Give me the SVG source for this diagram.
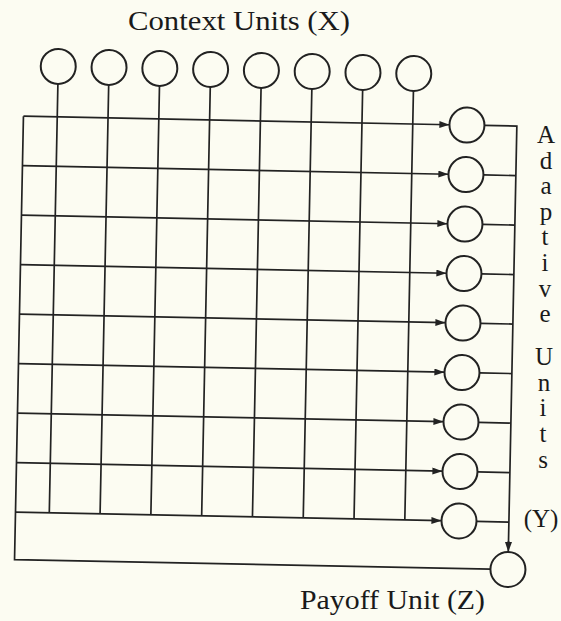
<svg xmlns="http://www.w3.org/2000/svg" width="561" height="621" viewBox="0 0 561 621">
  <style>
    .node { fill: none; stroke: #222; stroke-width: 2; }
    .wire { fill: none; stroke: #222; stroke-width: 1.7; }
    .lbl { font-family: "Liberation Serif", "DejaVu Serif", serif; fill: #1a1a1a; }
    .col { font-family: "Liberation Serif", "DejaVu Serif", serif; fill: #1a1a1a; font-size: 25px; text-anchor: middle; }
  </style>
  <defs>
    <marker id="arr" markerUnits="userSpaceOnUse" markerWidth="11" markerHeight="8" refX="10" refY="3.5" orient="auto">
      <path d="M0,0 L10,3.5 L0,7 z" fill="#222"/>
    </marker>
  </defs>
  <rect width="561" height="621" fill="#fcfcf2"/>

  <g transform="rotate(1.15 260 340)">
    <g id="connectors">
      <path class="wire" d="M19,121 L19,564.5 L495,564.5"/>
      <path class="wire" d="M52.8,88 V517 M103.6,88 V517 M154.4,88 V517 M205.2,88 V517 M256,88 V517 M306.8,88 V517 M357.6,88 V517 M408.4,88 V517"/>
      <path class="wire" d="M19,121 H445" marker-end="url(#arr)"/>
      <path class="wire" d="M19,170.5 H445" marker-end="url(#arr)"/>
      <path class="wire" d="M19,220 H445" marker-end="url(#arr)"/>
      <path class="wire" d="M19,269.5 H445" marker-end="url(#arr)"/>
      <path class="wire" d="M19,319 H445" marker-end="url(#arr)"/>
      <path class="wire" d="M19,368.5 H445" marker-end="url(#arr)"/>
      <path class="wire" d="M19,418 H445" marker-end="url(#arr)"/>
      <path class="wire" d="M19,467.5 H445" marker-end="url(#arr)"/>
      <path class="wire" d="M19,517 H445" marker-end="url(#arr)"/>
      <path class="wire" d="M480.1,121 H512.5 V540 M480.1,170.5 H512.5 M480.1,220 H512.5 M480.1,269.5 H512.5 M480.1,319 H512.5 M480.1,368.5 H512.5 M480.1,418 H512.5 M480.1,467.5 H512.5 M480.1,517 H512.5"/>
      <path class="wire" d="M512.5,536 L512.5,547" marker-end="url(#arr)"/>
    </g>

    <g id="context-units">
      <circle id="x1" class="node" cx="52.8" cy="70.5" r="17.5"/>
      <circle id="x2" class="node" cx="103.6" cy="70.5" r="17.5"/>
      <circle id="x3" class="node" cx="154.4" cy="70.5" r="17.5"/>
      <circle id="x4" class="node" cx="205.2" cy="70.5" r="17.5"/>
      <circle id="x5" class="node" cx="256" cy="70.5" r="17.5"/>
      <circle id="x6" class="node" cx="306.8" cy="70.5" r="17.5"/>
      <circle id="x7" class="node" cx="357.6" cy="70.5" r="17.5"/>
      <circle id="x8" class="node" cx="408.4" cy="70.5" r="17.5"/>
    </g>

    <g id="adaptive-units">
      <circle id="y1" class="node" cx="462.6" cy="121" r="17.5"/>
      <circle id="y2" class="node" cx="462.6" cy="170.5" r="17.5"/>
      <circle id="y3" class="node" cx="462.6" cy="220" r="17.5"/>
      <circle id="y4" class="node" cx="462.6" cy="269.5" r="17.5"/>
      <circle id="y5" class="node" cx="462.6" cy="319" r="17.5"/>
      <circle id="y6" class="node" cx="462.6" cy="368.5" r="17.5"/>
      <circle id="y7" class="node" cx="462.6" cy="418" r="17.5"/>
      <circle id="y8" class="node" cx="462.6" cy="467.5" r="17.5"/>
      <circle id="y9" class="node" cx="462.6" cy="517" r="17.5"/>
    </g>

    <g id="payoff-unit">
      <circle id="z" class="node" cx="512.5" cy="564.5" r="17.5"/>
    </g>
  </g>

  <g id="labels">
    <text class="lbl" x="128" y="30" font-size="28" textLength="222" lengthAdjust="spacingAndGlyphs">Context Units (X)</text>
    <text class="lbl" x="300" y="609" font-size="28" textLength="185" lengthAdjust="spacingAndGlyphs">Payoff Unit (Z)</text>
    <g id="adaptive-label">
      <text class="col" x="546" y="143">A</text>
      <text class="col" x="546" y="169">d</text>
      <text class="col" x="546" y="194">a</text>
      <text class="col" x="546" y="220">p</text>
      <text class="col" x="545" y="245">t</text>
      <text class="col" x="545" y="271">i</text>
      <text class="col" x="545" y="297">v</text>
      <text class="col" x="545" y="322">e</text>
      <text class="col" x="544" y="365">U</text>
      <text class="col" x="544" y="391">n</text>
      <text class="col" x="543" y="416">i</text>
      <text class="col" x="543" y="442">t</text>
      <text class="col" x="543" y="468">s</text>
      <text class="col" x="541" y="527" font-size="27">(Y)</text>
    </g>
  </g>
</svg>
